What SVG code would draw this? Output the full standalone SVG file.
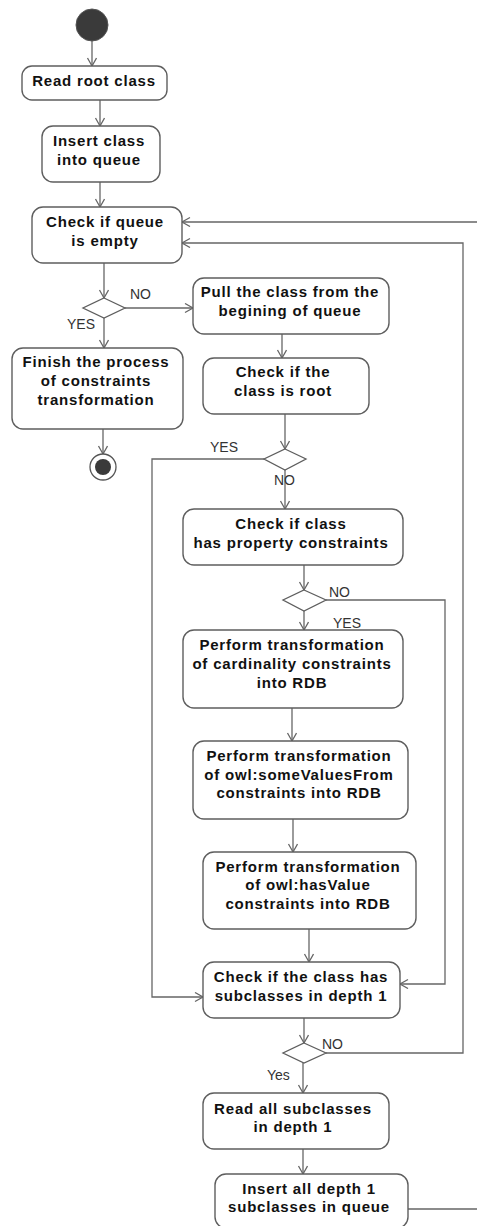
<svg xmlns="http://www.w3.org/2000/svg" width="477" height="1226" viewBox="0 0 477 1226">
  <style>
    .box { fill: #ffffff; stroke: #5e5e5e; stroke-width: 1.4; }
    .dia { fill: #ffffff; stroke: #5e5e5e; stroke-width: 1.3; }
    .t { font-family: "Liberation Sans", Arial, sans-serif; font-size: 15px; font-weight: bold; fill: #111; text-anchor: middle; letter-spacing: 0.8px; }
    .lbl { font-family: "Liberation Sans", Arial, sans-serif; font-size: 14px; fill: #333; }
    .edge { fill: none; stroke: #666; stroke-width: 1.3; marker-end: url(#arr); }
    .line { fill: none; stroke: #666; stroke-width: 1.3; }
  </style>
  <defs>
    <marker id="arr" markerUnits="userSpaceOnUse" markerWidth="12" markerHeight="12" refX="9" refY="5" orient="auto">
      <path d="M1,0.5 L9,5 L1,9.5" fill="none" stroke="#666" stroke-width="1.3"/>
    </marker>
  </defs>
  <rect width="477" height="1226" fill="#ffffff"/>

  <g id="connectors">
    <path class="edge" d="M92,41 V66"/>
    <path class="edge" d="M100,100 V126"/>
    <path class="edge" d="M100,182 V207"/>
    <path class="edge" d="M104,263 V298"/>
    <path class="edge" d="M125,308 H193"/>
    <path class="edge" d="M104,318 V348"/>
    <path class="edge" d="M103,429 V454"/>
    <path class="edge" d="M282,334 V358"/>
    <path class="edge" d="M285,414 V449"/>
    <path class="edge" d="M264,459 H152 V997 H203"/>
    <path class="edge" d="M285,470 V509"/>
    <path class="edge" d="M304,565 V590"/>
    <path class="edge" d="M326,600 H445 V984 H400"/>
    <path class="edge" d="M304,611 V630"/>
    <path class="edge" d="M292,708 V741"/>
    <path class="edge" d="M293,819 V852"/>
    <path class="edge" d="M309,929 V962"/>
    <path class="edge" d="M304,1018 V1043"/>
    <path class="edge" d="M326,1053 H463 V243 H182"/>
    <path class="edge" d="M303,1063 V1093"/>
    <path class="edge" d="M303,1149 V1174"/>
    <path class="edge" d="M408,1209 H495 V222 H182"/>
    <text class="lbl" x="130" y="299">NO</text>
    <text class="lbl" x="67" y="329">YES</text>
    <text class="lbl" x="210" y="452">YES</text>
    <text class="lbl" x="274" y="485">NO</text>
    <text class="lbl" x="329" y="597">NO</text>
    <text class="lbl" x="333" y="628">YES</text>
    <text class="lbl" x="322" y="1049">NO</text>
    <text class="lbl" x="267" y="1080">Yes</text>
  </g>

  <g id="start">
    <circle cx="92" cy="25" r="16" fill="#3a3a3a" stroke="#555" stroke-width="1"/>
  </g>

  <g id="read-root">
    <rect class="box" x="22" y="66" width="145" height="34" rx="10"/>
    <text class="t" x="94" y="86">Read root class</text>
  </g>

  <g id="insert-class">
    <rect class="box" x="42" y="126" width="118" height="56" rx="11"/>
    <text class="t" x="99" y="146">Insert class</text>
    <text class="t" x="99" y="165">into queue</text>
  </g>

  <g id="check-queue">
    <rect class="box" x="32" y="207" width="150" height="56" rx="11"/>
    <text class="t" x="105" y="227">Check if queue</text>
    <text class="t" x="105" y="246">is empty</text>
  </g>

  <g id="decision-empty">
    <polygon class="dia" points="104,298 125,308 104,318 83,308"/>
  </g>

  <g id="finish">
    <rect class="box" x="12" y="348" width="171" height="81" rx="11"/>
    <text class="t" x="96" y="367">Finish the process</text>
    <text class="t" x="96" y="386">of constraints</text>
    <text class="t" x="96" y="405">transformation</text>
  </g>

  <g id="end">
    <circle cx="103" cy="467" r="13" fill="#ffffff" stroke="#555" stroke-width="1.3"/>
    <circle cx="103" cy="467" r="8" fill="#3a3a3a"/>
  </g>

  <g id="pull-class">
    <rect class="box" x="193" y="278" width="196" height="56" rx="11"/>
    <text class="t" x="290" y="297">Pull the class from the</text>
    <text class="t" x="290" y="316">begining of queue</text>
  </g>

  <g id="check-root">
    <rect class="box" x="203" y="358" width="166" height="56" rx="11"/>
    <text class="t" x="283" y="377">Check if the</text>
    <text class="t" x="283" y="396">class is root</text>
  </g>

  <g id="decision-root">
    <polygon class="dia" points="285,449 306,459 285,470 264,459"/>
  </g>

  <g id="check-property">
    <rect class="box" x="183" y="509" width="220" height="56" rx="11"/>
    <text class="t" x="291" y="529">Check if class</text>
    <text class="t" x="291" y="548">has property constraints</text>
  </g>

  <g id="decision-property">
    <polygon class="dia" points="304,590 326,600 304,611 283,600"/>
  </g>

  <g id="cardinality">
    <rect class="box" x="183" y="630" width="220" height="78" rx="11"/>
    <text class="t" x="292" y="650">Perform transformation</text>
    <text class="t" x="292" y="669">of cardinality constraints</text>
    <text class="t" x="292" y="688">into RDB</text>
  </g>

  <g id="some-values">
    <rect class="box" x="193" y="741" width="215" height="78" rx="11"/>
    <text class="t" x="299" y="761">Perform transformation</text>
    <text class="t" x="299" y="780">of owl:someValuesFrom</text>
    <text class="t" x="299" y="798">constraints into RDB</text>
  </g>

  <g id="has-value">
    <rect class="box" x="203" y="852" width="213" height="77" rx="11"/>
    <text class="t" x="308" y="872">Perform transformation</text>
    <text class="t" x="308" y="890">of owl:hasValue</text>
    <text class="t" x="308" y="909">constraints into RDB</text>
  </g>

  <g id="check-subclasses">
    <rect class="box" x="203" y="962" width="197" height="56" rx="11"/>
    <text class="t" x="301" y="982">Check if the class has</text>
    <text class="t" x="301" y="1001">subclasses in depth 1</text>
  </g>

  <g id="decision-subclasses">
    <polygon class="dia" points="304,1043 326,1053 304,1063 283,1053"/>
  </g>

  <g id="read-subclasses">
    <rect class="box" x="203" y="1093" width="186" height="56" rx="11"/>
    <text class="t" x="293" y="1114">Read all subclasses</text>
    <text class="t" x="293" y="1132">in depth 1</text>
  </g>

  <g id="insert-subclasses">
    <rect class="box" x="215" y="1174" width="193" height="54" rx="11"/>
    <text class="t" x="309" y="1194">Insert all depth 1</text>
    <text class="t" x="309" y="1212">subclasses in queue</text>
  </g>
</svg>
